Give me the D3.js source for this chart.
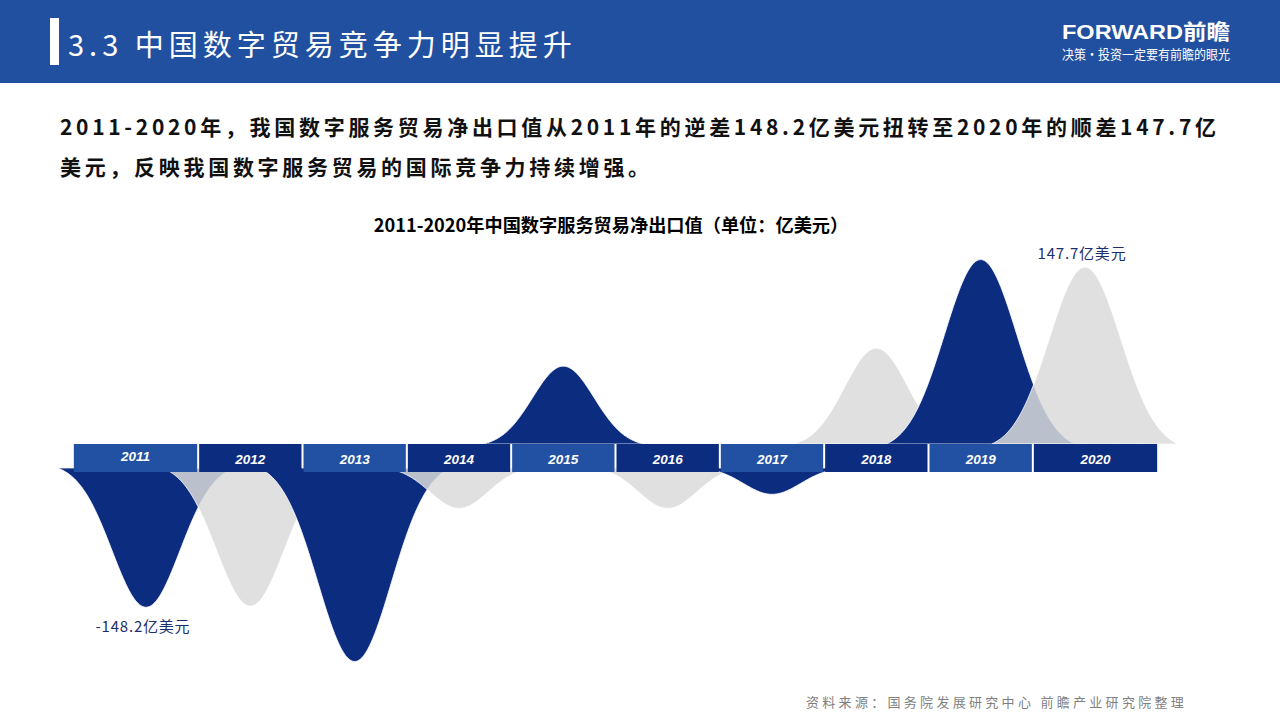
<!DOCTYPE html>
<html>
<head>
<meta charset="utf-8">
<script src="https://cdn.jsdelivr.net/npm/d3@7"></script>
<style>
  html, body { margin: 0; padding: 0; background: #fff; }
  svg { display: block; }
</style>
</head>
<body>
<svg id="chart" width="1280" height="720"></svg>
<script>
// ---- data ----
const years = [2011, 2012, 2013, 2014, 2015, 2016, 2017, 2018, 2019, 2020];
const netExports = [-148.2, -147, -206, -43, 65, -43, -28, 80, 154, 147.7];
const labelled = [
  { year: 2011, text: "-148.2亿美元" },
  { year: 2020, text: "147.7亿美元" }
];
const headerTitle = "3.3 中国数字贸易竞争力明显提升";
const chartTitle = "2011-2020年中国数字服务贸易净出口值（单位：亿美元）";
const paraLines = [
  "2011-2020年，我国数字服务贸易净出口值从2011年的逆差148.2亿美元扭转至2020年的顺差147.7亿",
  "美元，反映我国数字服务贸易的国际竞争力持续增强。"
];
const sourceText = "资料来源：国务院发展研究中心  前瞻产业研究院整理";

// ---- style ----
const NAVY = "#0c2c80", BLUE = "#2251a3", GRAY = "#dadada";
const FONT_CJK = "'Noto Sans CJK SC', 'Noto Sans', sans-serif";

const svg = d3.select("#chart");

// header
svg.append("rect").attr("x", 0).attr("y", 0).attr("width", 1280).attr("height", 83).attr("fill", "#2150a0");
svg.append("rect").attr("x", 50).attr("y", 18).attr("width", 9).attr("height", 47).attr("fill", "#fff");
svg.append("text").attr("x", 68).attr("y", 56).text(headerTitle)
  .attr("fill", "#fff").attr("font-family", FONT_CJK).attr("font-size", 29)
  .attr("letter-spacing", 5);
svg.append("text").attr("x", 1062).attr("y", 39).text("FORWARD前瞻")
  .attr("fill", "#fff").attr("font-family", "'Liberation Sans', Arial, " + FONT_CJK).attr("font-weight", "bold")
  .attr("font-size", 21).attr("textLength", 168).attr("lengthAdjust", "spacingAndGlyphs");
svg.append("text").attr("x", 1062).attr("y", 59).text("决策·投资一定要有前瞻的眼光")
  .attr("fill", "#fff").attr("font-family", FONT_CJK).attr("font-size", 13)
  .attr("textLength", 168).attr("lengthAdjust", "spacingAndGlyphs");

// paragraph
paraLines.forEach((t, i) => {
  svg.append("text").attr("x", 60).attr("y", 135 + i * 40).text(t)
    .attr("fill", "#111").attr("font-family", FONT_CJK).attr("font-weight", "bold")
    .attr("font-size", 21).attr("letter-spacing", 3.7);
});

// chart title
svg.append("text").attr("x", 611).attr("y", 232).attr("text-anchor", "middle").text(chartTitle)
  .attr("fill", "#000").attr("font-family", FONT_CJK).attr("font-weight", "bold").attr("font-size", 18.2);

// ---- scales ----
const x = d3.scalePoint().domain(years).range([146, 1085]);
const step = x.step();
const bandTop = 444, bandBottom = 472, edgeExtra = 21;
const yUp = d3.scaleLinear().domain([0, 150]).range([bandTop, bandTop - 150 * 1.198]);
const yDown = d3.scaleLinear().domain([0, -150]).range([468, 468 + 150 * 0.94]);

// ---- peaks ----
const gShapes = svg.append("g");
const tMax = 2.6, e0 = Math.exp(-tMax * tMax / 2);
years.forEach((yr, i) => {
  const v = netExports[i];
  const scale = v >= 0 ? yUp : yDown;
  const hPx = Math.abs(scale(v) - scale(0));
  const sigma = 27 + 0.05 * hPx;
  const cx = x(yr);
  const pts = d3.range(-tMax, tMax + 0.001, 0.05).map(t => ({
    px: cx + t * sigma,
    val: v * Math.max(0, (Math.exp(-t * t / 2) - e0) / (1 - e0))
  }));
  const area = d3.area()
    .x(d => d.px)
    .y0(scale(0))
    .y1(d => scale(d.val))
    .curve(d3.curveBasis);
  gShapes.append("path").attr("d", area(pts))
    .attr("fill", i % 2 === 0 ? NAVY : GRAY)
    .attr("fill-opacity", i % 2 === 0 ? 1 : 0.85)
    .attr("stroke", "#fff").attr("stroke-width", 0.8);
});

// ---- band of years ----
const gBand = svg.append("g");
years.forEach((yr, i) => {
  const x0 = i === 0 ? x(yr) - step / 2 - edgeExtra : x(yr) - step / 2;
  const x1 = i === years.length - 1 ? x(yr) + step / 2 + edgeExtra : x(yr) + step / 2;
  gBand.append("rect").attr("x", x0 + 1).attr("y", bandTop).attr("width", x1 - x0 - 2)
    .attr("height", bandBottom - bandTop).attr("fill", i % 2 === 0 ? BLUE : NAVY);
  gBand.append("text").attr("x", (x0 + x1) / 2).attr("y", i === 0 ? bandTop + 17 : bandTop + 20)
    .attr("text-anchor", "middle").text(yr)
    .attr("fill", "#fff").attr("font-family", "'Liberation Sans', Arial, sans-serif")
    .attr("font-weight", "bold").attr("font-style", "italic").attr("font-size", 13.5);
});

// ---- value labels ----
labelled.forEach(l => {
  const v = netExports[years.indexOf(l.year)];
  const yy = v >= 0 ? yUp(v) - 8 : yDown(v) + 25;
  svg.append("text").attr("x", x(l.year) - 3).attr("y", yy).attr("text-anchor", "middle").text(l.text)
    .attr("fill", "#1b2f6e").attr("font-family", FONT_CJK).attr("font-size", 15).attr("letter-spacing", 0.8);
});

// source
svg.append("text").attr("x", 806).attr("y", 707).text(sourceText)
  .attr("fill", "#7f7f7f").attr("font-family", FONT_CJK).attr("font-size", 13).attr("letter-spacing", 3.3);
</script>
</body>
</html>
